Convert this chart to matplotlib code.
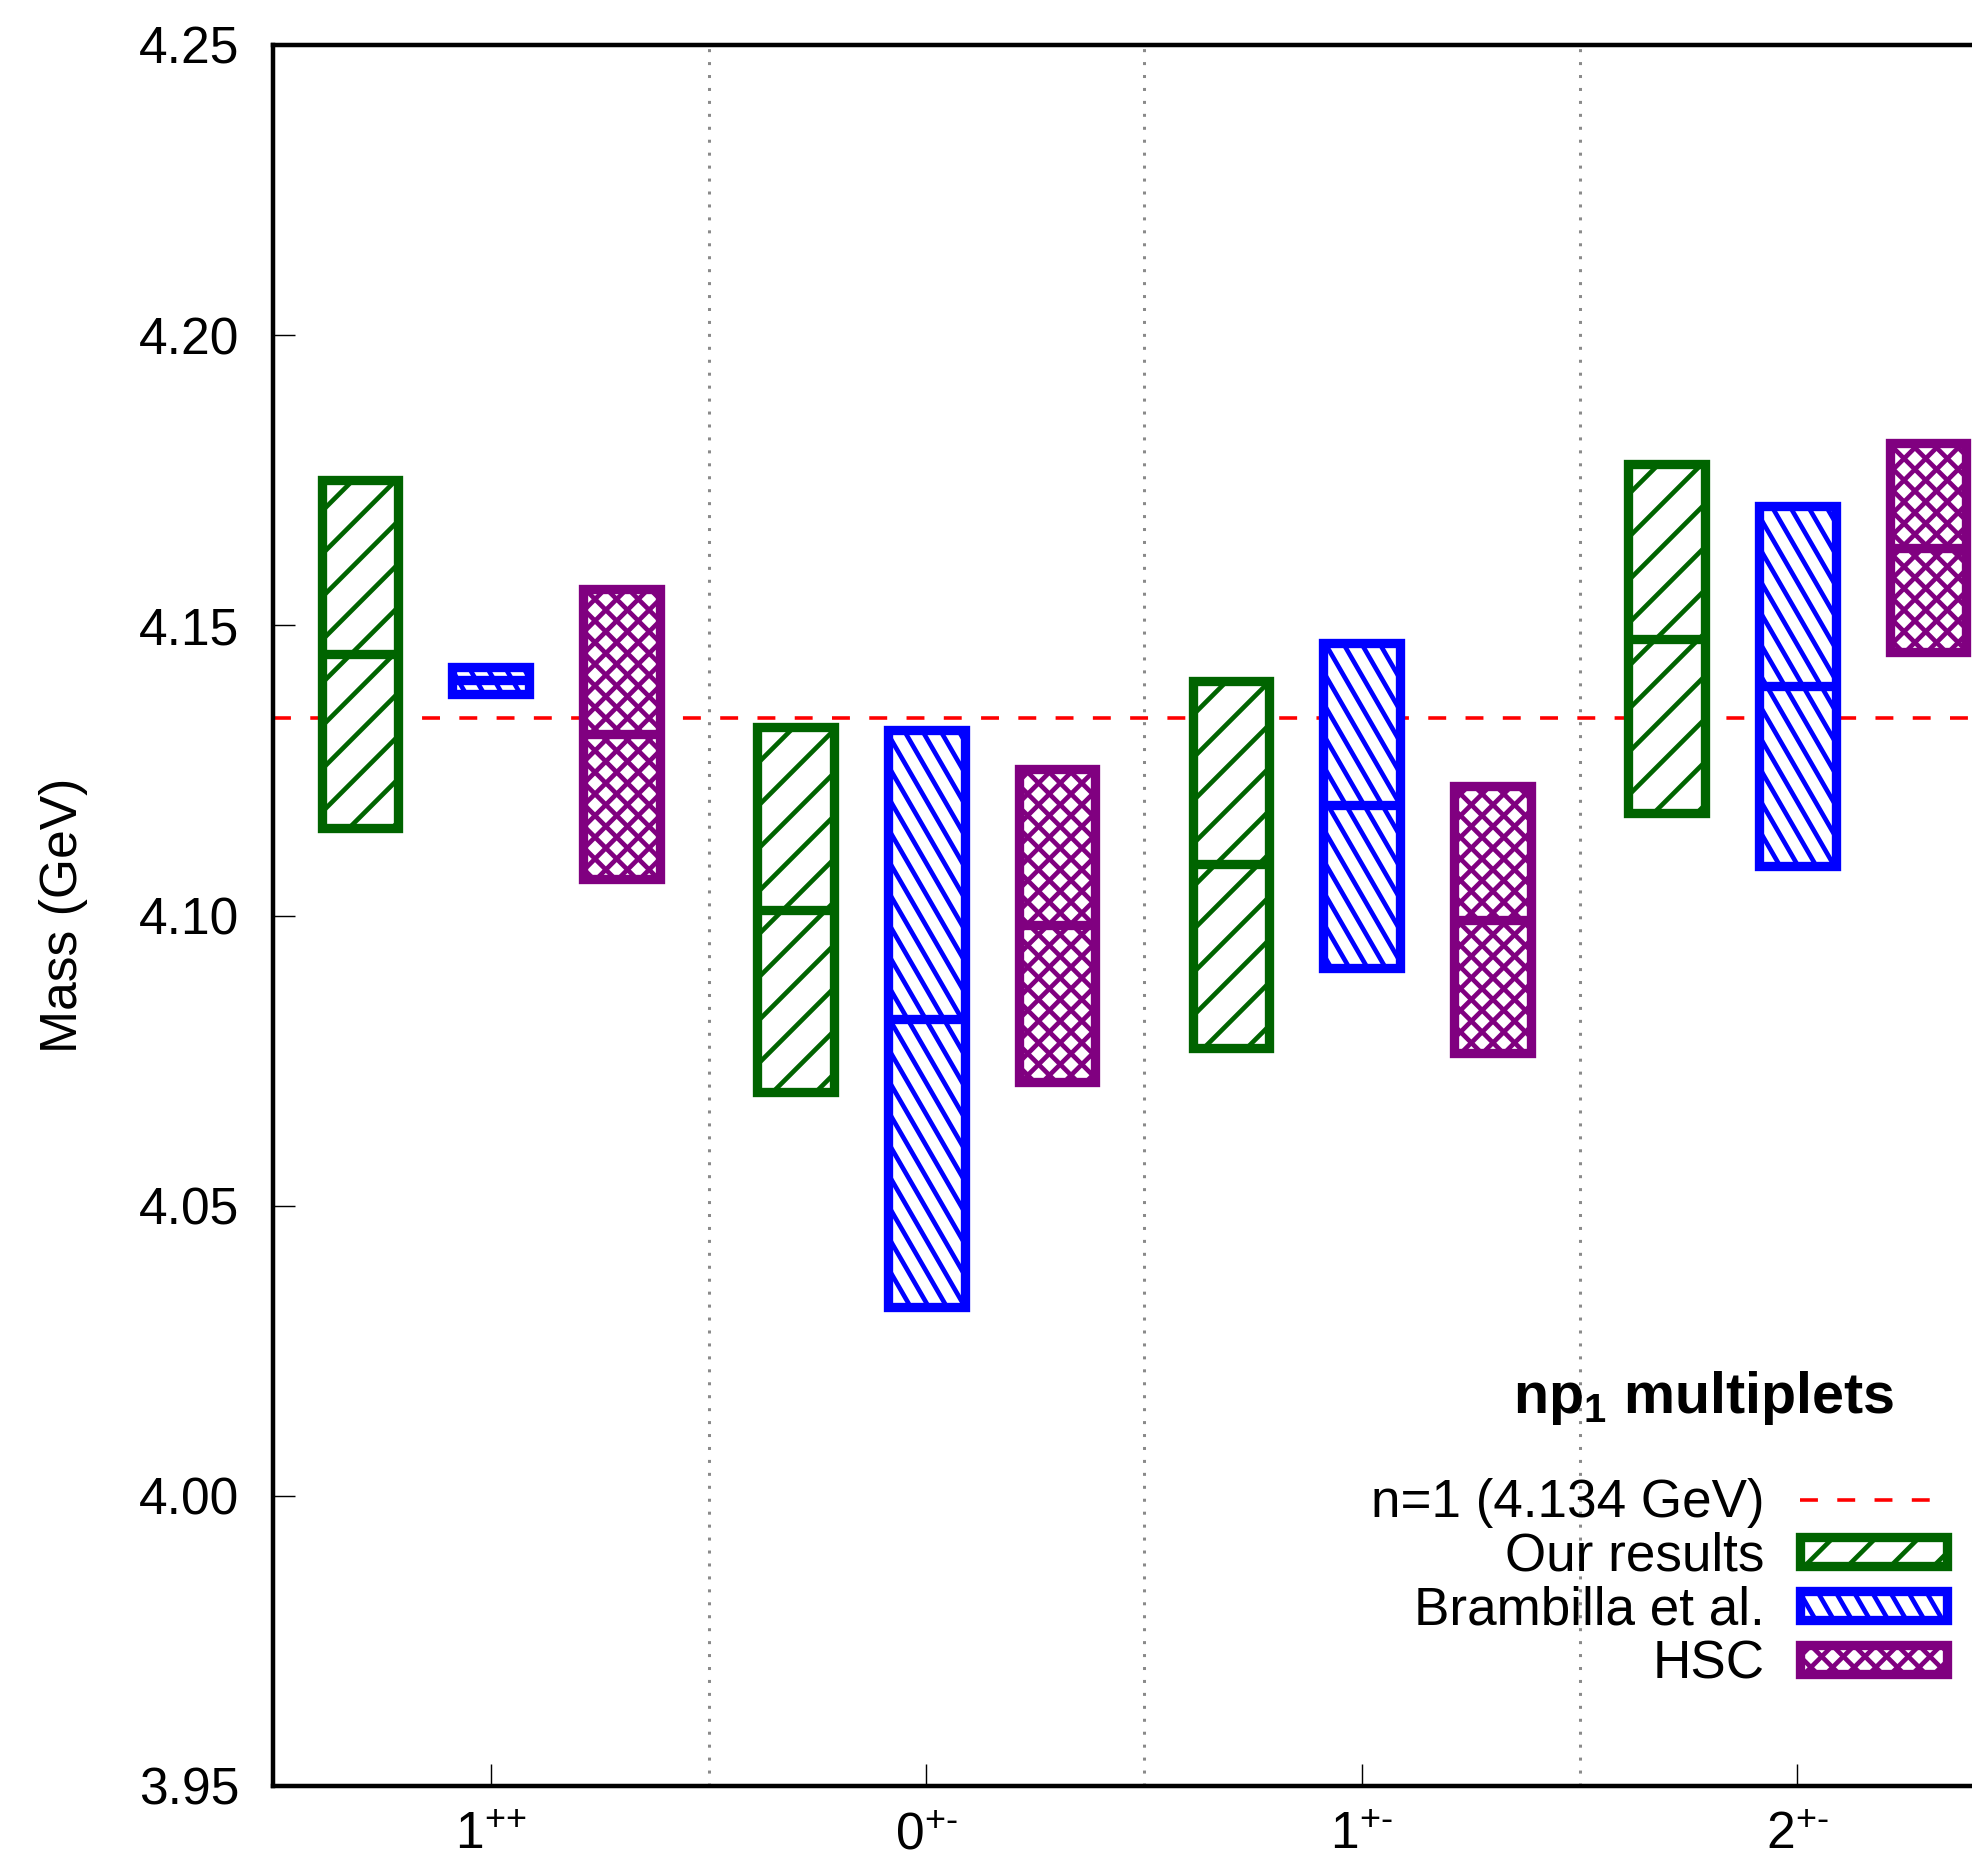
import numpy as np
import matplotlib
matplotlib.use("Agg")
import matplotlib.pyplot as plt
from matplotlib.collections import LineCollection
from matplotlib.legend_handler import HandlerBase
from matplotlib.patches import Rectangle

IMAGE_FILE = "out.png"

plt.rcParams["font.family"] = ["Liberation Sans", "DejaVu Sans"]
plt.rcParams["mathtext.fontset"] = "custom"
plt.rcParams["mathtext.rm"] = "Liberation Sans"
plt.rcParams["mathtext.bf"] = "Liberation Sans:bold"
plt.rcParams["mathtext.default"] = "regular"

# J^PC channels of the np1 multiplet
channels = ["$1^{\\text{++}}$", "$0^{\\text{+-}}$", "$1^{\\text{+-}}$", "$2^{\\text{+-}}$"]

# central masses and half-widths in GeV
ours_mass = [4.145, 4.101, 4.1088, 4.1477]
ours_err = [0.030, 0.0314, 0.0316, 0.0301]
bramb_mass = [4.1405, 4.0822, 4.119, 4.1396]
bramb_err = [0.0024, 0.0497, 0.028, 0.031]
hsc_mass = [4.1313, 4.0983, 4.0993, 4.1634]
hsc_err = [0.025, 0.027, 0.023, 0.018]

n1_mass = 4.134
yticks = [3.95, 4.00, 4.05, 4.10, 4.15, 4.20, 4.25]

# label, masses, errors, colour, hatch angles (deg), hatch spacing (px)
series = [
    ("Our results", ours_mass, ours_err, "#006400", [45], 30.4),
    ("Brambilla et al.", bramb_mass, bramb_err, "#0000ff", [-60], 15.7),
    ("HSC", hsc_mass, hsc_err, "#800080", [45, -45], 15.3),
]
offsets = [-0.3, 0.0, 0.3]
box_w = 0.176
lw_box = 2.6
lw_hatch = 1.3

DPI = 258
W, H = 1972, 1865


def hatch_segments(x0, y0, x1, y1, angles, spacing):
    """Parallel hatch lines clipped to the box [x0, x1] x [y0, y1]."""
    segs = []
    corners = np.array([[x0, y0], [x1, y0], [x0, y1], [x1, y1]])
    for ang in angles:
        t = np.deg2rad(ang)
        d = np.array([np.cos(t), np.sin(t)])
        n = np.array([-np.sin(t), np.cos(t)])
        proj = corners @ n
        k0 = int(np.ceil(proj.min() / spacing))
        k1 = int(np.floor(proj.max() / spacing))
        for k in range(k0, k1 + 1):
            p = k * spacing * n
            lo, hi = -np.inf, np.inf
            for i, (a, b) in enumerate(((x0, x1), (y0, y1))):
                if abs(d[i]) < 1e-12:
                    if not a <= p[i] <= b:
                        lo, hi = 1.0, 0.0
                    continue
                s1, s2 = (a - p[i]) / d[i], (b - p[i]) / d[i]
                lo, hi = max(lo, min(s1, s2)), min(hi, max(s1, s2))
            if hi > lo:
                segs.append([p + lo * d, p + hi * d])
    return segs


class HatchBoxHandler(HandlerBase):
    def __init__(self, color, angles, spacing):
        super().__init__()
        self.color, self.angles, self.spacing = color, angles, spacing

    def create_artists(self, legend, orig_handle, xdescent, ydescent,
                       width, height, fontsize, trans):
        x0, y0 = -xdescent, -ydescent
        box = Rectangle((x0, y0), width, height, facecolor="white",
                        edgecolor=self.color, linewidth=lw_box, transform=trans)
        # handle coordinates are in points
        segs = hatch_segments(x0, y0, x0 + width, y0 + height,
                              self.angles, self.spacing * 72 / DPI)
        lines = LineCollection(segs, colors=self.color, linewidths=lw_hatch,
                               transform=trans)
        return [box, lines]


fig = plt.figure(figsize=(W / DPI, H / DPI), dpi=DPI)
# the frame runs past the right edge of the canvas
ax = fig.add_axes([273 / W, 79 / H, 1742 / W, 1741 / H])
ax.set_xlim(-0.5, 3.5)
ax.set_ylim(3.95, 4.25)

x = np.arange(len(channels))

ax.axhline(n1_mass, color="red", lw=1.0, linestyle=(0, (5.0, 5.4)),
           label=f"n=1 ({n1_mass:.3f} GeV)", zorder=2)
for s in x[:-1] + 0.5:
    ax.axvline(s, color="#8a8a8a", lw=0.84, linestyle=(0, (1, 3.3)), zorder=1)

handler_map = {}
to_px = ax.transData
to_data = ax.transData.inverted()
for k, (label, mass, err, color, angles, spacing) in enumerate(series):
    mass = np.array(mass)
    err = np.array(err)
    xpos = x + offsets[k]
    bars = ax.bar(xpos, 2 * err, bottom=mass - err, width=box_w, facecolor="white",
                  edgecolor=color, linewidth=lw_box, label=label, zorder=3)
    segs = []
    for patch in bars:
        (px0, py0), (px1, py1) = to_px.transform(patch.get_bbox().get_points())
        for seg in hatch_segments(px0, py0, px1, py1, angles, spacing):
            segs.append(to_data.transform(np.array(seg)))
    ax.add_collection(LineCollection(segs, colors=color, linewidths=lw_hatch,
                                     capstyle="butt", zorder=3.5))
    ax.hlines(mass, xpos - box_w / 2, xpos + box_w / 2, colors=color,
              linewidth=lw_box, zorder=4)
    handler_map[bars] = HatchBoxHandler(color, angles, spacing)

ax.set_xticks(x)
ax.set_xticklabels(channels)
ax.set_yticks(yticks)
ax.set_yticklabels([f"{v:.2f}" for v in yticks])
ax.tick_params(direction="in", length=6.1, width=0.4, labelsize=14.4)
ax.tick_params(axis="y", pad=9.5)
ax.tick_params(axis="x", pad=7)
for sp in ax.spines.values():
    sp.set_linewidth(1.25)

ax.set_ylabel("Mass (GeV)", fontsize=14.4, va="center")
ax.yaxis.set_label_coords(-0.12, 0.5)

handles, labels = ax.get_legend_handles_labels()
ax.legend(handles, labels, handler_map=handler_map, loc="upper right",
          bbox_to_anchor=(1947 / W, 1 - 1478 / H), bbox_transform=fig.transFigure,
          frameon=False, markerfirst=False, fontsize=14.8,
          handlelength=2.77, handleheight=0.47, handletextpad=0.67,
          labelspacing=0.07, borderpad=0, borderaxespad=0)
fig.text(1513 / W, 1 - 1413 / H, "np$_1$ multiplets", fontsize=16,
         fontweight="bold", ha="left", va="baseline")

fig.savefig(IMAGE_FILE, dpi=DPI)
print(f"Plot saved successfully as {IMAGE_FILE}")
